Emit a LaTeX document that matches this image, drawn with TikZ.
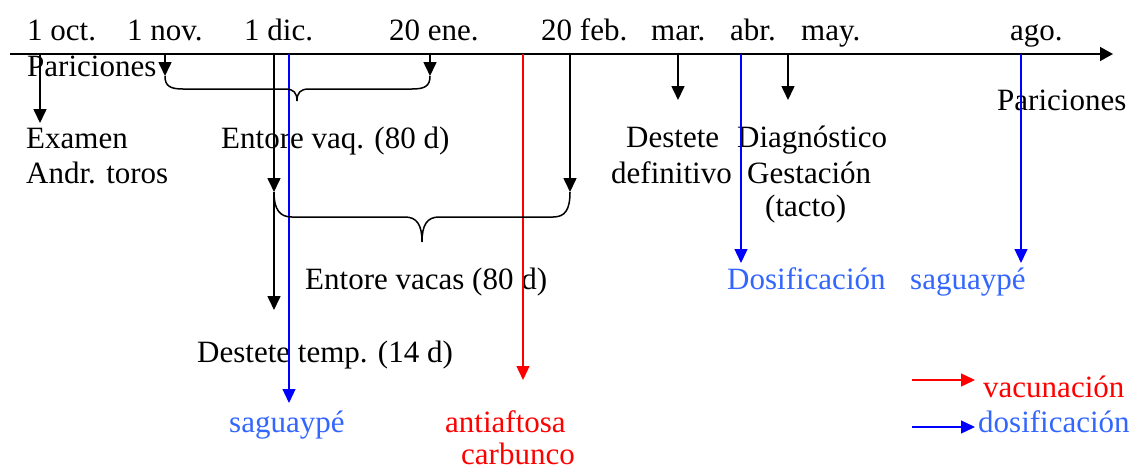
\documentclass[tikz,border=0pt]{standalone}
\usepackage{fontspec}
\setmainfont{Liberation Serif}
\usetikzlibrary{arrows.meta}
\definecolor{lblue}{RGB}{51,102,255}
\begin{document}
\begin{tikzpicture}[x=1pt,y=-1pt,
  lbl/.style={inner sep=0pt, anchor=base west, font=\fontsize{31}{35}\selectfont},
  blbl/.style={lbl, text=lblue},
  rlbl/.style={lbl, text=red},
  blk/.style={draw=black, line width=1.6pt, -{Triangle[length=14pt,width=13pt]}},
  blu/.style={draw=blue, line width=1.3pt, -{Triangle[length=14pt,width=13pt]}},
  rd/.style={draw=red, line width=1.3pt, -{Triangle[length=14pt,width=13pt]}},
  brc/.style={draw=black, line width=1.5pt},
  axis/.style={draw=black, line width=1.5pt, -{Triangle[length=13pt,width=14pt]}}
]
\useasboundingbox (0,0) rectangle (1134,471);

% month labels
\node[lbl] (m1) at (27,40) {1 oct.};
\node[lbl] (m2) at (127,40) {1 nov.};
\node[lbl] (m3) at (244,40) {1 dic.};
\node[lbl] (m4) at (389,40) {20 ene.};
\node[lbl] (m5) at (541,40) {20 feb.};
\node[lbl] (m6) at (651,40) {mar.};
\node[lbl] (m7) at (730,40) {abr.};
\node[lbl] (m8) at (801,40) {may.};
\node[lbl] (m9) at (1010,40) {ago.};

% texts
\node[lbl] (par1) at (27,76) {Pariciones};
\node[lbl] (ex1) at (26,148) {Examen};
\node[lbl] (ex2) at (26,183) {Andr. toros};
\node[lbl] (evaq) at (221,148) {Entore vaq. (80 d)};
\node[lbl] (evac) at (305,289) {Entore vacas (80 d)};
\node[lbl] (dtemp) at (197,362) {Destete temp. (14 d)};
\node[blbl] (sag1) at (229,432) {saguaypé};
\node[rlbl] (af1) at (445,432) {antiaftosa};
\node[rlbl] (af2) at (461,464) {carbunco};
\node[lbl] (dd1) at (626,147) {Destete};
\node[lbl] (dd2) at (611,183) {definitivo};
\node[lbl] (dg1) at (737,147) {Diagnóstico};
\node[lbl] (dg2) at (747,183) {Gestación};
\node[lbl] (dg3) at (765,216) {(tacto)};
\node[lbl] (par2) at (997,110) {Pariciones};
\node[blbl] (dos) at (727,289) {Dosificación};
\node[blbl] (sag2) at (910,289) {saguaypé};
\node[rlbl] (lv) at (983,397) {vacunación};
\node[blbl] (ld) at (978,432) {dosificación};

% coordinates
\coordinate (a0) at (10,54);
\coordinate (a1) at (1113,54);
\coordinate (o1) at (40,54);   \coordinate (o1e) at (40,123);
\coordinate (n1) at (165,54);  \coordinate (n1e) at (165,76);
\coordinate (e1) at (430,54);  \coordinate (e1e) at (430,76);
\coordinate (d1) at (274,54);  \coordinate (d1m) at (274,192); \coordinate (d1e) at (274,310);
\coordinate (s1) at (289,54);  \coordinate (s1e) at (289,403);
\coordinate (r1) at (523,54);  \coordinate (r1e) at (523,380);
\coordinate (f1) at (570,54);  \coordinate (f1e) at (570,192);
\coordinate (ma) at (678,54);  \coordinate (mae) at (678,100);
\coordinate (ab) at (741,54);  \coordinate (abe) at (741,263);
\coordinate (my) at (788,54);  \coordinate (mye) at (788,100);
\coordinate (ag) at (1021,54); \coordinate (age) at (1021,263);
\coordinate (lr0) at (912,380); \coordinate (lr1) at (975,380);
\coordinate (lb0) at (912,427); \coordinate (lb1) at (975,427);

% axis
\draw[axis] (a0) -- (a1);

% arrows
\draw[blk] (o1) -- (o1e);
\draw[blk] (n1) -- (n1e);
\draw[blk] (e1) -- (e1e);
\draw[blk] (d1) -- (d1m);
\draw[blk] (d1m) -- (d1e);
\draw[blk] (f1) -- (f1e);
\draw[blk] (ma) -- (mae);
\draw[blk] (my) -- (mye);
\draw[blu] (s1) -- (s1e);
\draw[blu] (ab) -- (abe);
\draw[blu] (ag) -- (age);
\draw[rd] (r1) -- (r1e);
\draw[rd] (lr0) -- (lr1);
\draw[blu] (lb0) -- (lb1);

% braces
\draw[brc] (n1e) .. controls (165,86) and (170,89) .. (183,89) -- (285,89)
  .. controls (294,89) and (297,93) .. (297,101)
  .. controls (297,93) and (300,89) .. (309,89) -- (412,89)
  .. controls (425,89) and (430,86) .. (e1e);
\draw[brc] (d1m) .. controls (274,210) and (280,217) .. (292,217) -- (405,217)
  .. controls (417,217) and (422,225) .. (422,242)
  .. controls (422,225) and (427,217) .. (439,217) -- (553,217)
  .. controls (565,217) and (570,210) .. (f1e);
\end{tikzpicture}
\end{document}
